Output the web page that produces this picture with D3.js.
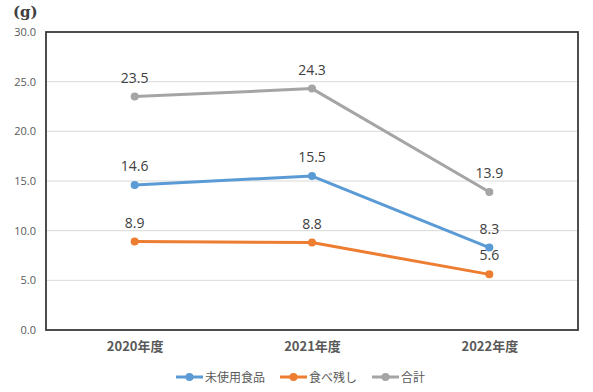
<!DOCTYPE html>
<html>
<head>
<meta charset="utf-8">
<script src="https://cdn.jsdelivr.net/npm/d3@7"></script>
<style>
  body { margin: 0; background: #fff; }
  text { font-family: "Noto Sans CJK JP", "Open Sans", sans-serif; }
</style>
</head>
<body>
<script>
var width = 593, height = 392;

var years = ['2020年度', '2021年度', '2022年度'];
var unused = [14.6, 15.5, 8.3];
var leftover = [8.9, 8.8, 5.6];
var total = [23.5, 24.3, 13.9];
var yTicks = [0, 5, 10, 15, 20, 25, 30];

var series = [
  {name: '未使用食品', values: unused, color: '#5B9BD5'},
  {name: '食べ残し', values: leftover, color: '#ED7D31'},
  {name: '合計', values: total, color: '#A5A5A5'}
];

var plot = {left: 46, right: 578, top: 32, bottom: 330};

var svg = d3.select('body').append('svg')
  .attr('width', width).attr('height', height);

var x = d3.scalePoint().domain(years)
  .range([plot.left, plot.right]).padding(0.5);
var y = d3.scaleLinear().domain([0, 30])
  .range([plot.bottom, plot.top]);

// grid
svg.append('g').selectAll('line')
  .data(yTicks.slice(1, -1))
  .enter().append('line')
  .attr('x1', plot.left).attr('x2', plot.right)
  .attr('y1', function(d){ return y(d); })
  .attr('y2', function(d){ return y(d); })
  .attr('stroke', '#d9d9d9').attr('stroke-width', 1);

// y axis labels
var yAxis = d3.axisLeft(y).tickValues(yTicks)
  .tickFormat(d3.format('.1f')).tickSize(0).tickPadding(10);
svg.append('g')
  .attr('transform', 'translate(' + plot.left + ',0)')
  .call(yAxis)
  .call(function(g){ g.select('.domain').remove(); })
  .selectAll('text')
  .attr('font-size', 11).attr('fill', '#595959')
  .style('font-family', '"Open Sans", sans-serif');

// x axis labels
var xAxis = d3.axisBottom(x).tickSize(0).tickPadding(12);
svg.append('g')
  .attr('transform', 'translate(0,' + plot.bottom + ')')
  .call(xAxis)
  .call(function(g){ g.select('.domain').remove(); })
  .selectAll('text')
  .attr('font-size', 13).attr('font-weight', 'bold').attr('fill', '#595959');

// box
svg.append('rect')
  .attr('x', plot.left).attr('y', plot.top)
  .attr('width', plot.right - plot.left)
  .attr('height', plot.bottom - plot.top)
  .attr('fill', 'none').attr('stroke', '#3a3a3a').attr('stroke-width', 1.8);

// unit
svg.append('text')
  .attr('x', 13).attr('y', 17)
  .attr('font-size', 15).attr('font-weight', 'bold').attr('fill', '#404040')
  .style('font-family', '"DejaVu Serif", serif')
  .text('(g)');

var line = d3.line()
  .x(function(d, i){ return x(years[i]); })
  .y(function(d){ return y(d); });

series.forEach(function(s){
  var g = svg.append('g');
  g.append('path')
    .attr('d', line(s.values))
    .attr('fill', 'none').attr('stroke', s.color)
    .attr('stroke-width', 3).attr('stroke-linejoin', 'round');
  g.selectAll('circle').data(s.values).enter().append('circle')
    .attr('cx', function(d, i){ return x(years[i]); })
    .attr('cy', function(d){ return y(d); })
    .attr('r', 4).attr('fill', s.color);
  g.selectAll('text').data(s.values).enter().append('text')
    .attr('x', function(d, i){ return x(years[i]); })
    .attr('y', function(d){ return y(d) - 14; })
    .attr('text-anchor', 'middle')
    .attr('font-size', 14).attr('fill', '#404040')
    .style('font-family', '"Open Sans", sans-serif')
    .text(function(d){ return d.toFixed(1); });
});

// legend
var legendX = [176, 280, 372];
var legend = svg.append('g').attr('transform', 'translate(0,377)');
series.forEach(function(s, i){
  var lg = legend.append('g').attr('transform', 'translate(' + legendX[i] + ',0)');
  lg.append('line').attr('x1', 0).attr('x2', 27)
    .attr('stroke', s.color).attr('stroke-width', 3);
  lg.append('circle').attr('cx', 13.5).attr('r', 4).attr('fill', s.color);
  lg.append('text').attr('x', 29).attr('y', 4.5)
    .attr('font-size', 12).attr('fill', '#595959')
    .text(s.name);
});
</script>
</body>
</html>
